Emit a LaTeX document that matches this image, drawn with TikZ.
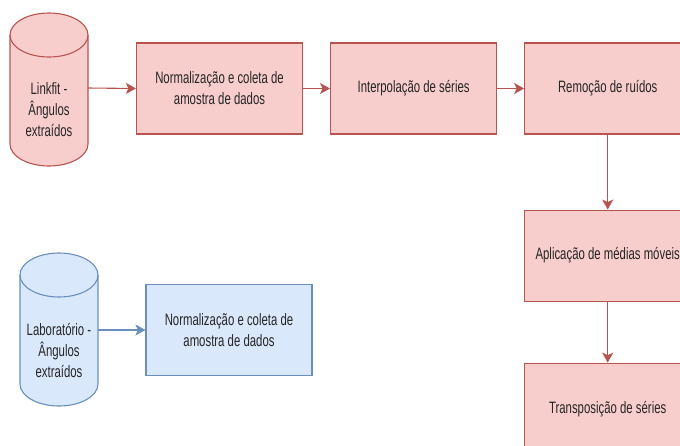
\documentclass[tikz,border=0pt]{standalone}
\usepackage{fontspec}
\setmainfont[FakeStretch=0.69]{Liberation Sans}
\usetikzlibrary{positioning,arrows.meta}

\definecolor{FLvermelho}{HTML}{F8CECC}
\definecolor{FLborda}{HTML}{B85450}
\definecolor{FLazul}{HTML}{DAE8FC}
\definecolor{FLbordaazul}{HTML}{6C8EBF}
\colorlet{FLtexto}{black!85}

\begin{document}
\begin{tikzpicture}[font=\fontsize{16.5}{21}\selectfont,x=1pt,y=-1pt,text=FLtexto,
 etapa/.style={draw=FLborda,fill=FLvermelho,line width=1.1pt,minimum width=166pt,minimum height=91pt,align=center,inner sep=2pt},
 rotulo/.style={align=center,inner sep=1pt},
 seta/.style={draw=FLborda,line width=1.1pt,-{Stealth[length=10pt,width=11pt,inset=2.5pt]}}]
\useasboundingbox (0,0) rectangle (680,445);
% bases de dados
\foreach \cx/\ty/\cor/\borda in {49/13/FLvermelho/FLborda,59/253/FLazul/FLbordaazul}{
 \draw[\borda,fill=\cor,line width=1.1pt] (\cx-39,\ty+22)--(\cx-39,\ty+131)
  arc[start angle=180,end angle=360,x radius=39pt,y radius=22pt]--(\cx+39,\ty+22)
  arc[start angle=0,end angle=180,x radius=39pt,y radius=22pt]--cycle;
 \draw[\borda,line width=1.1pt] (\cx-39,\ty+22) arc[start angle=180,end angle=360,x radius=39pt,y radius=22pt];
}
\node[rotulo] (lnk) at (49,110) {Linkfit -\\Ângulos\\extraídos};
\node[rotulo] (lab) at (59,350) {Laboratório -\\Ângulos\\extraídos};
\coordinate (lnk-saida) at (88,88);
\coordinate (lab-saida) at (98,330);
% etapas
\node[etapa] (norm) at (219.5,88.5) {Normalização e coleta de\\amostra de dados};
\node[etapa,right=27pt of norm] (interp) {Interpolação de séries};
\node[etapa,right=27pt of interp] (ruido) {Remoção de ruídos};
\node[etapa,below=75pt of ruido] (medias) {Aplicação de médias móveis};
\node[etapa,below=61pt of medias] (transp) {Transposição de séries};
\node[etapa,draw=FLbordaazul,fill=FLazul] (normlab) at (229,330) {Normalização e coleta de\\amostra de dados};
% ligacoes
\draw[seta] (lnk-saida) -- (norm.west);
\draw[seta] (norm) -- (interp);
\draw[seta] (interp) -- (ruido);
\draw[seta] (ruido) -- (medias);
\draw[seta] (medias) -- (transp);
\draw[seta,draw=FLbordaazul] (lab-saida) -- (normlab.west);
\end{tikzpicture}
\end{document}
